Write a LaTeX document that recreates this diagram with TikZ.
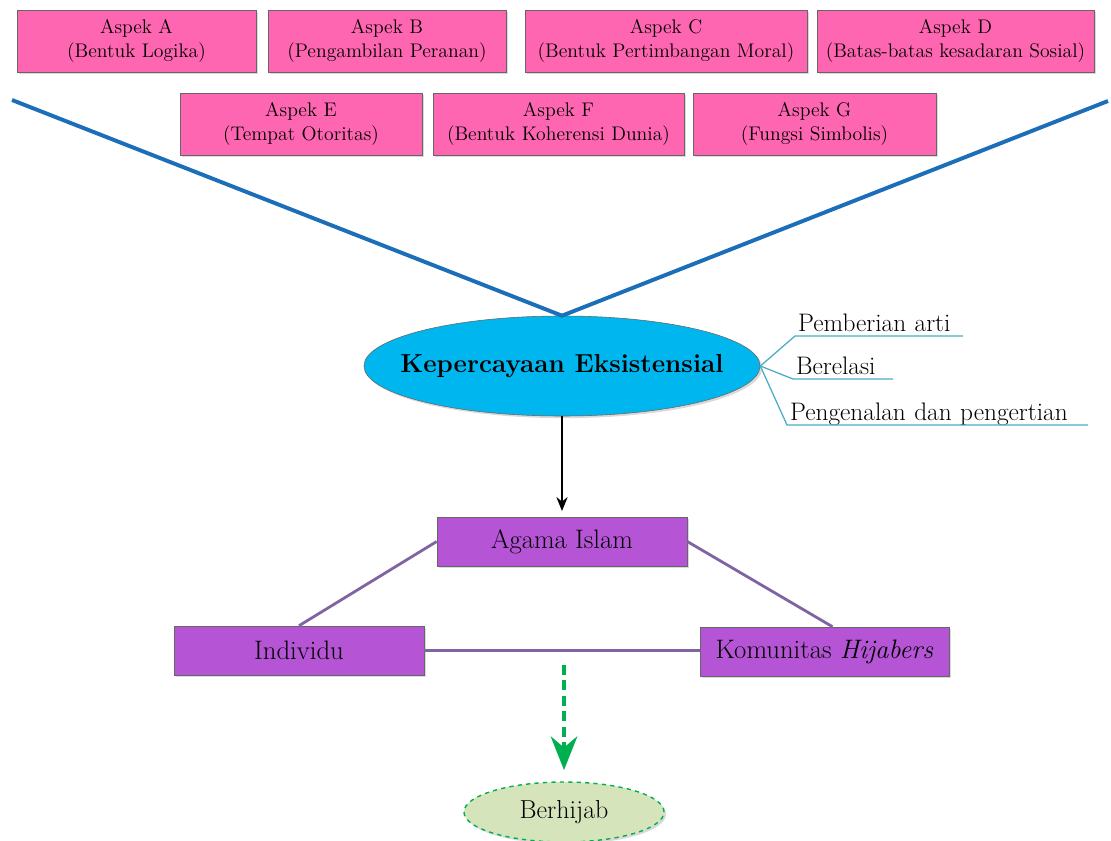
\documentclass[tikz,border=0pt]{standalone}
\usetikzlibrary{positioning}
\usetikzlibrary{shapes.geometric}
\usetikzlibrary{shadows}
\usetikzlibrary{arrows}
\usetikzlibrary{arrows.meta}
\definecolor{aspekpink}{HTML}{FF66B2}
\definecolor{lineblue}{HTML}{1C6EB9}
\definecolor{kepblue}{HTML}{00B6EF}
\definecolor{boxpurple}{HTML}{B555D6}
\definecolor{linepurple}{HTML}{8064A2}
\definecolor{leafteal}{HTML}{4BACC6}
\definecolor{hijabgreen}{HTML}{00B050}
\definecolor{hijabfill}{HTML}{D6E4BC}
\tikzset{>=stealth'}
\tikzset{shad/.style={drop shadow={shadow xshift=1.5pt,shadow yshift=-1.5pt,opacity=.3}}}
\tikzset{aspek/.style={draw=black!60, fill=aspekpink, shad, minimum height=1.55cm, inner sep=0pt, align=center, font=\fontsize{14}{16.5}\selectfont}}
\tikzset{unsur/.style={draw=black!60, fill=boxpurple, shad, minimum width=6.25cm, minimum height=1.225cm, inner sep=0pt, font=\fontsize{19}{22}\selectfont}}
\tikzset{arti/.style={anchor=south west, inner xsep=2pt, inner ysep=3pt, text depth=0pt, align=left, font=\fontsize{18}{21}\selectfont}}
\tikzset{daun/.style={draw=leafteal, line width=0.9pt}}
\tikzset{ungu/.style={draw=linepurple, line width=2pt}}

\begin{document}
\begin{tikzpicture}[x=0.025cm, y=-0.025cm]
\useasboundingbox (0,0) rectangle (1111,841);

%%% The Aspek part

\node[aspek, minimum width=5.975cm] (a) at (136.5,41) {Aspek A\\(Bentuk Logika)};
\node[aspek, minimum width=5.95cm] (b) at (387,41) {Aspek B\\(Pengambilan Peranan)};
\node[aspek, minimum width=7.05cm] (c) at (666,41) {Aspek C\\(Bentuk Pertimbangan Moral)};
\node[aspek, minimum width=6.925cm] (d) at (955.5,41) {Aspek D\\(Batas-batas kesadaran Sosial)};

\node[aspek, minimum width=6.05cm] (e) at (301,124) {Aspek E\\(Tempat Otoritas)};
\node[aspek, minimum width=6.275cm] (f) at (558.5,124) {Aspek F\\(Bentuk Koherensi Dunia)};
\node[aspek, minimum width=6.075cm] (g) at (814.5,124) {Aspek G\\(Fungsi Simbolis)};

%%% Kepercayaan Eksistensial

\node[ellipse, draw=black!60, fill=kepblue, shad, minimum width=9.9cm, minimum height=2.5cm,
  font=\fontsize{18.5}{22}\selectfont\bfseries] (kep) at (562,366)
  {\makebox[0pt]{Kepercayaan Eksistensial}};

\coordinate (bl) at (12,100);
\coordinate (br) at (1108,101);
\draw[lineblue, line width=2.8pt] (bl) -- (kep.north) -- (br);

\node[arti, text width=4.05cm] (p1) at (795,336) {Pemberian arti};
\node[arti, text width=2.35cm] (p2) at (793,379) {Berelasi};
\node[arti, text width=7.37cm] (p3) at (787,425) {Pengenalan dan pengertian};

\draw[daun] (kep.east) -- (p1.south west) -- (p1.south east);
\draw[daun] (kep.east) -- (p2.south west) -- (p2.south east);
\draw[daun] (kep.east) -- (p3.south west) -- (p3.south east);

%%% The triangle

\node[unsur] (agama) at (562,541.5) {Agama Islam};
\node[unsur] (indiv) at (299,650.5) {Individu};
\node[unsur, minimum width=6.225cm] (komu) at (824.5,651.5) {Komunitas \textit{Hijabers}};

\draw[-{Stealth[length=10pt, width=8pt]}, line width=1pt, shorten >=4pt] (kep.south) -- (agama.north);

\draw[ungu] (agama.west) -- (indiv.north);
\draw[ungu] (agama.east) -- ([xshift=0.2cm]komu.north);
\draw[ungu] (indiv.east) -- (komu.west |- indiv.east);

%%% Berhijab

\node[ellipse, draw=hijabgreen, dashed, line width=1pt, fill=hijabfill, shad,
  minimum width=5cm, minimum height=1.5cm, font=\fontsize{18.5}{22}\selectfont] (hijab) at (564,812)
  {\makebox[0pt]{Berhijab}};

\coordinate (gs) at (564,665);
\draw[hijabgreen, line width=2.2pt, dash pattern=on 7pt off 4pt, shorten >=8pt,
  -{Stealth[length=24pt, width=19pt, inset=8pt]}] (gs) -- (hijab.north);

\end{tikzpicture}
\end{document}
